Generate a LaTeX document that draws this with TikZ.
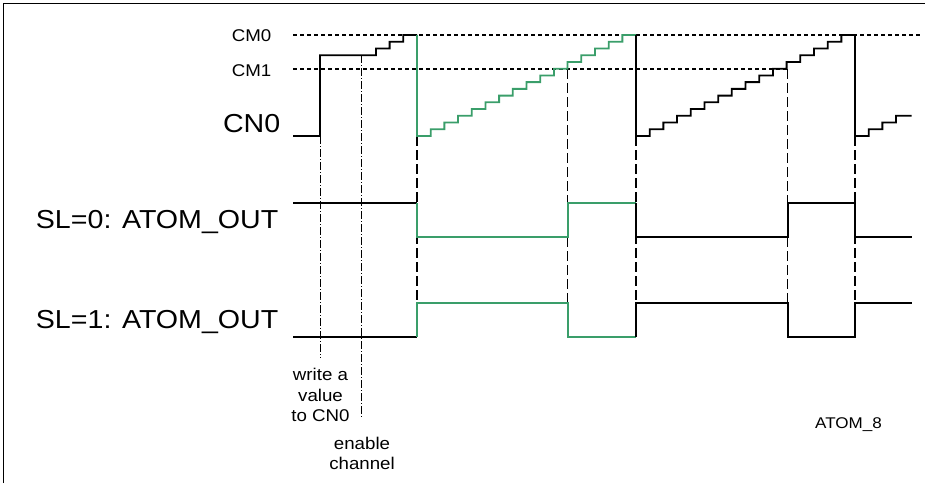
\documentclass[tikz,border=0pt]{standalone}
\usepackage{fontspec}
\setmainfont{Liberation Sans}[FakeStretch=1.1]
\definecolor{wgreen}{RGB}{58,158,106}
\begin{document}
\begin{tikzpicture}[x=1pt,y=-1pt,
  sig/.style={line width=1.8pt, line join=miter},
  gsig/.style={sig, draw=wgreen},
  cmline/.style={line width=1.2pt, dash pattern=on 4pt off 3pt},
  evline/.style={line width=1.2pt, dash pattern=on 10pt off 4pt},
  swline/.style={line width=0.9pt, dash pattern=on 8pt off 2pt on 1pt off 2pt},
  lbl/.style={inner sep=0, font=\fontsize{17}{21}\selectfont},
  big/.style={inner sep=0, font=\fontsize{26}{30}\selectfont},
  tag/.style={inner sep=0, font=\fontsize{15.5}{19}\selectfont},
]
\useasboundingbox (0,0) rectangle (925,483);
\def\sx{13.69}
\def\sy{6.733}
% frame
\draw[line width=1.4pt] (3.3,483) -- (3.3,3.3) -- (925,3.3);

% reference levels
\draw[cmline] (293,35) -- (920,35);
\draw[cmline] (293,69) -- (787.7,69);

% event lines
\draw[evline] (417,136) -- (417,337);
\draw[evline] (567.6,69) -- (567.6,337);
\draw[evline] (636,136) -- (636,337);
\draw[evline] (787.7,69) -- (787.7,337);
\draw[evline] (855,136) -- (855,337);

% software action lines
\draw[swline] (320,136) -- (320,358);
\draw[swline] (361.5,55.2) -- (361.5,418);

% CN0 counter
\draw[sig] (293,136) -- (320,136) -- (320,{136-12*\sy})
  \foreach \k in {1,2,3} { -- ({417-\sx*(4-\k)},{136-\sy*(11+\k)}) -- ({417-\sx*(4-\k)},{136-\sy*(12+\k)}) }
  -- (417,35);
\draw[gsig] (417,35) -- (417,136)
  \foreach \k in {1,...,15} { -- ({417+\sx*\k},{136-\sy*(\k-1)}) -- ({417+\sx*\k},{136-\sy*\k}) }
  -- (636,35);
\draw[sig] (636,35) -- (636,136)
  \foreach \k in {1,...,15} { -- ({636+\sx*\k},{136-\sy*(\k-1)}) -- ({636+\sx*\k},{136-\sy*\k}) }
  -- (855,35) -- (855,136)
  \foreach \k in {1,2,3} { -- ({855+\sx*\k},{136-\sy*(\k-1)}) -- ({855+\sx*\k},{136-\sy*\k}) }
  -- (911.5,{136-3*\sy});

% SL=0 output
\draw[sig] (293,203) -- (417,203);
\draw[gsig] (417,203) -- (417,237) -- (567.6,237) -- (567.6,203) -- (636,203);
\draw[sig] (636,203) -- (636,237) -- (787.7,237) -- (787.7,203) -- (855,203) -- (855,237) -- (911.5,237);

% SL=1 output
\draw[sig] (293,337) -- (417,337);
\draw[gsig] (417,337) -- (417,303) -- (567.6,303) -- (567.6,337) -- (636,337);
\draw[sig] (636,337) -- (636,303) -- (787.7,303) -- (787.7,337) -- (855,337) -- (855,303) -- (911.5,303);

% labels
\node[lbl, anchor=base east] (cm0) at (271.5,41) {CM0};
\node[lbl, anchor=base east] (cm1) at (271.5,76) {CM1};
\node[big, anchor=base east] (cn0) at (280.5,132.5) {CN0};
\node[big, anchor=base east] (sl0) at (278.5,228) {SL=0: ATOM\_OUT};
\node[big, anchor=base east] (sl1) at (278.5,328.5) {SL=1: ATOM\_OUT};
\node[lbl, anchor=base] (w1) at (320.5,380) {write a};
\node[lbl, anchor=base] (w2) at (320.5,401) {value};
\node[lbl, anchor=base] (w3) at (320.5,421) {to CN0};
\node[lbl, anchor=base] (e1) at (362,449) {enable};
\node[lbl, anchor=base] (e2) at (362,469.5) {channel};
\node[tag, anchor=base] (atom) at (848.5,428) {ATOM\_8};
\end{tikzpicture}
\end{document}
